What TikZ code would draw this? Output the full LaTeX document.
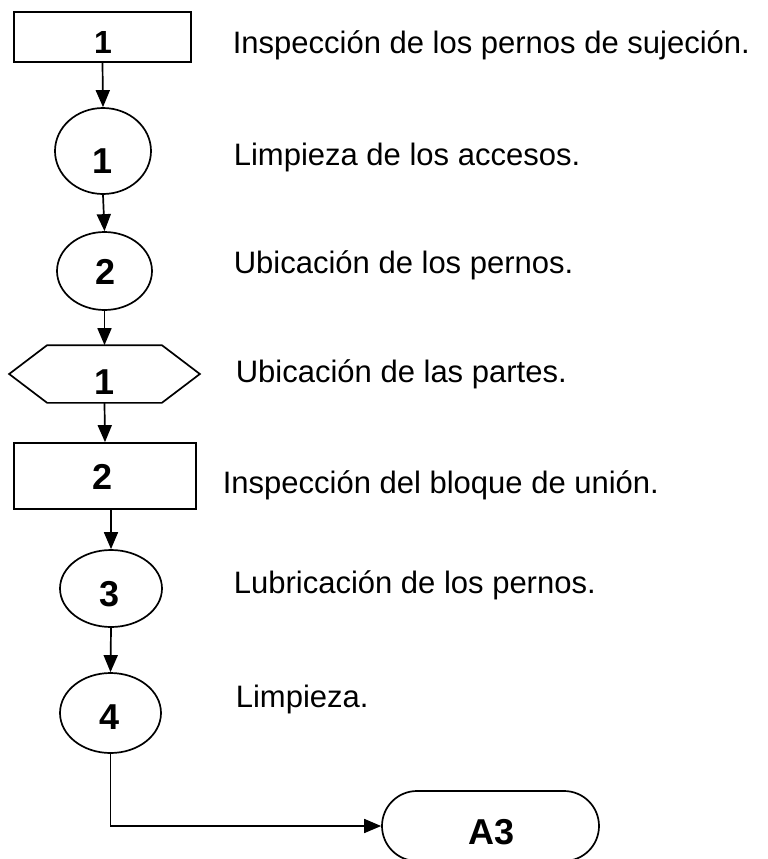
\documentclass[tikz,border=0pt]{standalone}
\usepackage{fontspec}
\setmainfont{Liberation Sans}
\usetikzlibrary{arrows.meta,shapes.geometric}
\begin{document}
\begin{tikzpicture}[x=1pt,y=-1pt,
  line width=1.7pt,
  box/.style={draw,rectangle,inner sep=0pt},
  oval/.style={draw,ellipse,inner sep=0pt},
  num/.style={anchor=base,inner sep=0pt,font=\fontsize{36}{42}\selectfont\bfseries},
  lbl/.style={anchor=base west,inner sep=0pt,font=\fontsize{31}{37}\selectfont},
  arr/.style={-{Triangle[width=14pt,length=17pt]}}]
\useasboundingbox (0,0) rectangle (768,859);
% shapes
\node[box,minimum width=177pt,minimum height=50pt] (r1) at (102.5,37) {};
\node[oval,minimum width=96pt,minimum height=86pt] (e1) at (103,151) {};
\node[oval,minimum width=95pt,minimum height=78pt] (e2) at (104.5,271) {};
\node[rectangle,inner sep=0pt,minimum width=189pt,minimum height=56pt] (h1) at (104.5,374) {};
\draw (h1.west) -- ([xshift=38pt]h1.north west) -- ([xshift=-38pt]h1.north east)
  -- (h1.east) -- ([xshift=-38pt]h1.south east) -- ([xshift=38pt]h1.south west) -- cycle;
\node[box,minimum width=182pt,minimum height=66pt] (r2) at (105,476) {};
\node[oval,minimum width=102pt,minimum height=77pt] (e3) at (111,588.5) {};
\node[oval,minimum width=101pt,minimum height=80pt] (e4) at (110.5,713) {};
\node[draw,rectangle,rounded corners=35pt,minimum width=217pt,minimum height=70pt,inner sep=0pt] (a3) at (490.5,826) {};
% numbers
\node[num,font=\fontsize{32}{38}\selectfont\bfseries] (n1) at (103,53) {1};
\node[num] (n2) at (103,173) {1};
\node[num] (n3) at (106,284) {2};
\node[num] (n4) at (105,394) {1};
\node[num] (n5) at (103,489) {2};
\node[num] (n6) at (110,606) {3};
\node[num] (n7) at (110,729) {4};
\node[num] (n8) at (492,844) {A3};
% labels
\node[lbl] (l1) at (232,53) {Inspección de los pernos de sujeción.};
\node[lbl] (l2) at (233,165) {Limpieza de los accesos.};
\node[lbl] (l3) at (233,273) {Ubicación de los pernos.};
\node[lbl] (l4) at (235,382) {Ubicación de las partes.};
\node[lbl] (l5) at (222,493) {Inspección del bloque de unión.};
\node[lbl] (l6) at (233,593) {Lubricación de los pernos.};
\node[lbl] (l7) at (235,707) {Limpieza.};
% connectors
\draw[arr] (r1.south) -- (e1.north);
\draw[arr] (e1.south) -- (e2.north);
\draw[arr] (e2.south) -- (h1.north);
\draw[arr] (h1.south) -- (r2.north);
\draw[arr] (r2.south -| e3.north) -- (e3.north);
\draw[arr] (e3.south) -- (e4.north);
\draw[arr] (e4.south) |- (a3.west);
\end{tikzpicture}
\end{document}
